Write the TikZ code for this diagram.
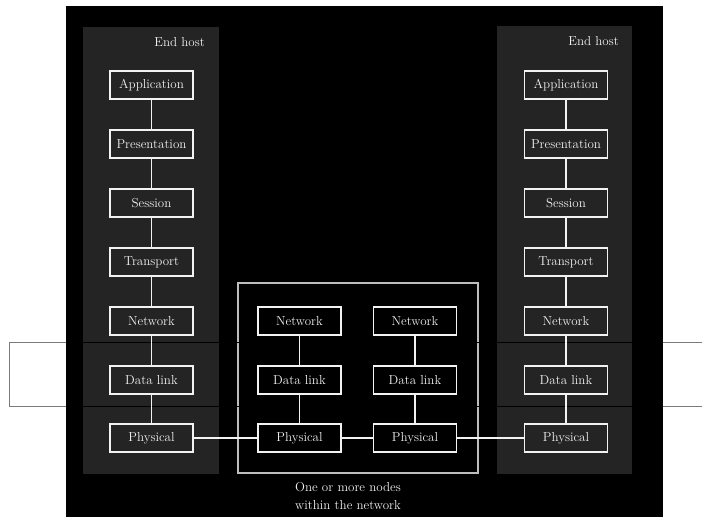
\documentclass[tikz,border=0pt]{standalone}
\definecolor{panelgray}{HTML}{242424}
\definecolor{boxgray}{HTML}{BDBDBD}
\definecolor{inkwhite}{HTML}{F2F2F2}
\definecolor{guidegray}{HTML}{7A7A7A}
\begin{document}
\begin{tikzpicture}[x=1bp,y=-1bp,
  layer/.style={draw=inkwhite, line width=1.4bp, minimum width=83bp, minimum height=28bp,
    inner sep=0pt, text=inkwhite, font=\fontsize{13bp}{15bp}\selectfont},
  link/.style={draw=inkwhite, line width=1.4bp},
  caption/.style={text=inkwhite, inner sep=0pt, font=\fontsize{13bp}{18bp}\selectfont},
  hostpanel/.style={fill=panelgray},
  netbox/.style={draw=boxgray, line width=1.5bp},
  guide/.style={draw=guidegray, line width=1bp},
  guidedark/.style={draw=black, line width=0.8bp}]
  % canvas
  \fill[white] (0,0) rectangle (702,517);
  \useasboundingbox (0,0) rectangle (702,517);
  \fill[black] (66,6) rectangle (663,517);
  % end host panels and the network box
  \fill[hostpanel] (83,27) rectangle (219,474);
  \fill[hostpanel] (497,26) rectangle (632,474);
  \draw[netbox] (238,283) rectangle (478,473);
  % band marking the lower layers: grey on the page, black over the dark area
  \draw[guide] (702,342) -- (9,342) -- (9,406) -- (702,406);
  \draw[guidedark] (66,342) -- (663,342);
  \draw[guidedark] (66,406) -- (663,406);

  % left end host
  \node[caption, anchor=east] (lhost) at (205,42) {End host};
  \node[layer] (l1) at (151.5,85) {Application};
  \node[layer] (l2) at (151.5,144) {Presentation};
  \node[layer] (l3) at (151.5,203) {Session};
  \node[layer] (l4) at (151.5,262) {Transport};
  \node[layer] (l5) at (151.5,321) {Network};
  \node[layer] (l6) at (151.5,380) {Data link};
  \node[layer] (l7) at (151.5,438) {Physical};

  % right end host
  \node[caption, anchor=east] (rhost) at (619,41) {End host};
  \node[layer] (r1) at (566,85) {Application};
  \node[layer] (r2) at (566,144) {Presentation};
  \node[layer] (r3) at (566,203) {Session};
  \node[layer] (r4) at (566,262) {Transport};
  \node[layer] (r5) at (566,321) {Network};
  \node[layer] (r6) at (566,380) {Data link};
  \node[layer] (r7) at (566,438) {Physical};

  % intermediate nodes
  \node[layer] (an) at (299.5,321) {Network};
  \node[layer] (ad) at (299.5,380) {Data link};
  \node[layer] (ap) at (299.5,438) {Physical};
  \node[layer] (bn) at (415,321) {Network};
  \node[layer] (bd) at (415,380) {Data link};
  \node[layer] (bp) at (415,438) {Physical};

  \node[caption, align=center] (netcap) at (348,496) {One or more nodes\\within the network};

  % vertical links
  \foreach \a/\b in {l1/l2,l2/l3,l3/l4,l4/l5,l5/l6,l6/l7,
                     r1/r2,r2/r3,r3/r4,r4/r5,r5/r6,r6/r7,
                     an/ad,ad/ap,bn/bd,bd/bp}
    \draw[link] (\a) -- (\b);
  % physical medium
  \draw[link] (l7) -- (ap);
  \draw[link] (ap) -- (bp);
  \draw[link] (bp) -- (r7);
\end{tikzpicture}
\end{document}
